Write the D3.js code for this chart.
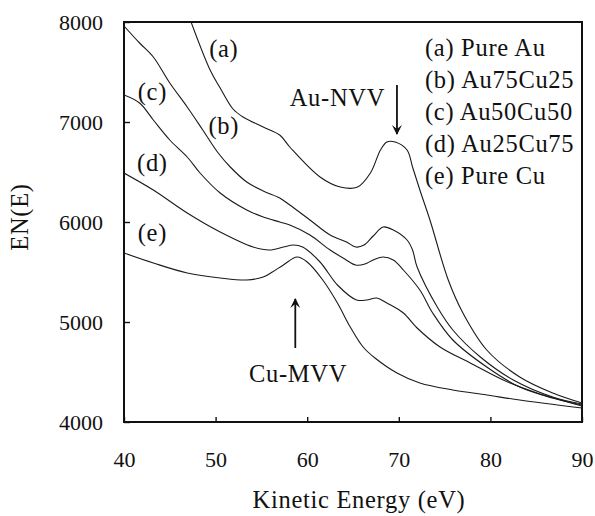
<!DOCTYPE html>
<html>
<head>
<meta charset="utf-8">
<script src="https://cdn.jsdelivr.net/npm/d3@7"></script>
<style>
  html, body { margin: 0; padding: 0; background: #fff; }
  svg text { font-family: "Liberation Serif", "Times New Roman", serif; fill: #111; }
  .axis text { font-size: 22px; }
  .axis line { stroke: #111; stroke-width: 1.4; }
  .spectrum { fill: none; stroke: #1a1a1a; stroke-width: 1.1; }
  .big { font-size: 24.5px; letter-spacing: 0.7px; }
</style>
</head>
<body>
<svg id="chart" width="595" height="516"></svg>
<script>
// ---- data (kinetic energy in eV, EN(E)) ----
const energyA = [47.2, 49.4, 50.5, 51.9, 53.0, 55.2, 57.0, 58.1, 61.4, 63.6, 65.5, 66.9, 68.0, 68.7, 69.6, 70.9, 71.5, 72.3, 73.4, 75.4, 77.0, 79.6, 83.2, 86.8, 90];
const countsA = [8030, 7520, 7340, 7130, 7050, 6950, 6870, 6750, 6450, 6350, 6350, 6490, 6720, 6800, 6800, 6720, 6550, 6320, 6020, 5420, 5090, 4720, 4450, 4290, 4190];

const energyB = [40, 41.7, 43.2, 45.0, 46.9, 48.6, 50.2, 51.6, 53.4, 55.2, 57.0, 58.1, 60.3, 62.5, 64.3, 65.3, 66.2, 67.2, 68.3, 69.4, 70.9, 71.5, 72.0, 74.2, 75.9, 78.9, 82.5, 86.8, 90];
const countsB = [7960, 7790, 7650, 7390, 7150, 6920, 6700, 6550, 6400, 6310, 6240, 6170, 6020, 5870, 5800, 5750, 5770, 5860, 5950, 5920, 5820, 5720, 5550, 5150, 4920, 4650, 4420, 4250, 4180];

const energyC = [40, 41.7, 43.2, 45.0, 46.9, 48.3, 50.5, 53.4, 55.2, 57.0, 58.1, 60.3, 62.5, 64.1, 65.3, 66.3, 67.2, 68.3, 69.4, 70.5, 72.3, 73.7, 75.9, 79.6, 83.2, 86.8, 90];
const countsC = [7270, 7190, 7020, 6820, 6650, 6490, 6290, 6120, 6050, 6000, 5970, 5870, 5720, 5630, 5570, 5580, 5620, 5650, 5620, 5520, 5320, 5090, 4820, 4550, 4350, 4240, 4170];

const energyD = [40, 43.2, 46.9, 50.5, 54.1, 55.9, 57.4, 58.5, 59.5, 61.4, 63.3, 65.4, 66.5, 67.6, 68.7, 70.5, 72.0, 74.5, 77.8, 81.4, 85.1, 90];
const countsD = [6490, 6320, 6090, 5900, 5750, 5720, 5750, 5770, 5750, 5600, 5370, 5220, 5220, 5240, 5190, 5090, 4940, 4750, 4590, 4420, 4290, 4160];

const energyE = [40, 43.2, 46.9, 50.5, 53.4, 55.2, 56.2, 57.4, 58.9, 60.0, 61.7, 63.3, 64.7, 66.1, 67.4, 69.8, 72.3, 75.9, 79.6, 83.2, 90];
const countsE = [5690, 5590, 5490, 5440, 5420, 5450, 5500, 5570, 5650, 5600, 5420, 5190, 4950, 4750, 4640, 4490, 4390, 4320, 4270, 4220, 4140];

const seriesNames = ["(a) Pure Au", "(b) Au75Cu25", "(c) Au50Cu50", "(d) Au25Cu75", "(e) Pure Cu"];
const curveTags = ["(a)", "(b)", "(c)", "(d)", "(e)"];
// where the (a)..(e) tags sit, in data units
const tagEnergy = [50.9, 50.9, 43.1, 43.1, 43.1];
const tagCounts = [7740, 6970, 7310, 6600, 5900];

const xTicks = [40, 50, 60, 70, 80, 90];
const yTicks = [4000, 5000, 6000, 7000, 8000];

// peak annotations: label, arrow energy, arrow from / to counts
const peakLabels = ["Au-NVV", "Cu-MVV"];
const peakEnergy = [69.8, 58.7];
const arrowFrom = [7370, 4740];
const arrowTo = [6880, 5230];
const labelEnergy = [63.3, 59.0];
const labelCounts = [7250, 4490];

// ---- layout ----
const svg = d3.select("#chart");
const margin = { top: 22, right: 13, bottom: 94, left: 124 };
const W = 595 - margin.left - margin.right;
const H = 516 - margin.top - margin.bottom;
const g = svg.append("g").attr("transform", `translate(${margin.left},${margin.top})`);

const x = d3.scaleLinear().domain([40, 90]).range([0, W]);
const y = d3.scaleLinear().domain([4000, 8000]).range([H, 0]);

// axes (ticks point inward)
const xAxis = d3.axisBottom(x).tickValues(xTicks).tickFormat(d3.format("d"))
  .tickSize(-5).tickPadding(29).tickSizeOuter(0);
const yAxis = d3.axisLeft(y).tickValues(yTicks).tickFormat(d3.format("d"))
  .tickSize(-6).tickPadding(21).tickSizeOuter(0);

const gx = g.append("g").attr("class", "axis").attr("transform", `translate(0,${H})`).call(xAxis);
const gy = g.append("g").attr("class", "axis").call(yAxis);
gx.select(".domain").remove();
gy.select(".domain").remove();
gx.selectAll("text").attr("dy", "0.71em");

g.append("rect")
  .attr("width", W).attr("height", H)
  .attr("fill", "none").attr("stroke", "#111").attr("stroke-width", 2);

g.append("text")
  .attr("class", "big")
  .attr("x", W / 2 + 6).attr("y", H + 86)
  .attr("text-anchor", "middle")
  .text("Kinetic Energy (eV)");

g.append("text")
  .attr("class", "big")
  .attr("transform", "rotate(-90)")
  .attr("x", -195).attr("y", -96)
  .attr("text-anchor", "middle")
  .text("EN(E)");

// ---- spectra ----
g.append("clipPath").attr("id", "plot-clip")
  .append("rect").attr("width", W).attr("height", H);

const allSeries = [
  d3.zip(energyA, countsA),
  d3.zip(energyB, countsB),
  d3.zip(energyC, countsC),
  d3.zip(energyD, countsD),
  d3.zip(energyE, countsE)
];

const line = d3.line()
  .x(d => x(d[0]))
  .y(d => y(d[1]))
  .curve(d3.curveCatmullRom.alpha(0.5));

g.append("g").attr("clip-path", "url(#plot-clip)")
  .selectAll("path")
  .data(allSeries)
  .join("path")
  .attr("class", "spectrum")
  .attr("d", line);

// curve tags
g.selectAll(".tag")
  .data(curveTags)
  .join("text")
  .attr("class", "tag big")
  .attr("x", (d, i) => x(tagEnergy[i]))
  .attr("y", (d, i) => y(tagCounts[i]))
  .attr("dy", "0.35em")
  .attr("text-anchor", "middle")
  .text(d => d);

// legend (text only)
g.selectAll(".legend")
  .data(seriesNames)
  .join("text")
  .attr("class", "legend big")
  .attr("x", 301)
  .attr("y", (d, i) => 25 + i * 32)
  .attr("dy", "0.35em")
  .text(d => d);

// peak arrows and labels
const defs = svg.append("defs");
defs.append("marker")
  .attr("id", "head")
  .attr("viewBox", "0 0 10 10")
  .attr("refX", 9).attr("refY", 5)
  .attr("markerWidth", 10).attr("markerHeight", 10)
  .attr("markerUnits", "userSpaceOnUse")
  .attr("orient", "auto")
  .append("path")
  .attr("d", "M0,0 L10,5 L0,10 L4,5 Z")
  .attr("fill", "#111");

g.selectAll(".arrow")
  .data(peakLabels)
  .join("line")
  .attr("class", "arrow")
  .attr("x1", (d, i) => x(peakEnergy[i]))
  .attr("x2", (d, i) => x(peakEnergy[i]))
  .attr("y1", (d, i) => y(arrowFrom[i]))
  .attr("y2", (d, i) => y(arrowTo[i]))
  .attr("stroke", "#111").attr("stroke-width", 1.8)
  .attr("marker-end", "url(#head)");

g.selectAll(".peak")
  .data(peakLabels)
  .join("text")
  .attr("class", "peak big")
  .attr("x", (d, i) => x(labelEnergy[i]))
  .attr("y", (d, i) => y(labelCounts[i]))
  .attr("dy", "0.35em")
  .attr("text-anchor", "middle")
  .text(d => d);
</script>
</body>
</html>
